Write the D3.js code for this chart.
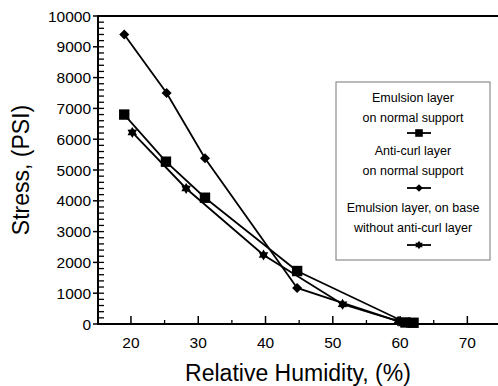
<!DOCTYPE html>
<html>
<head>
<meta charset="utf-8">
<script src="https://cdn.jsdelivr.net/npm/d3@7"></script>
<style>
  body { margin: 0; background: #fff; }
  svg { display: block; font-family: Arial, "Liberation Sans", sans-serif; }
</style>
</head>
<body>
<svg id="chart" width="498" height="386"></svg>
<script>
// data
var emulsionRH     = [19, 25.2, 31, 44.7, 60.8, 62];
var emulsionStress = [6800, 5270, 4100, 1720, 50, 40];
var anticurlRH     = [19, 25.3, 31, 44.7, 60, 61];
var anticurlStress = [9400, 7500, 5380, 1170, 70, 30];
var baseRH         = [20.2, 28.2, 39.7, 51.45, 59.7, 61.2];
var baseStress     = [6220, 4400, 2240, 640, 90, 40];

var xTicks = [20, 30, 40, 50, 60, 70];
var xMinor = [25, 35, 45, 55, 65];
var yTicks = [0, 1000, 2000, 3000, 4000, 5000, 6000, 7000, 8000, 9000, 10000];

var legendLines = [
	["Emulsion layer", "on normal support"],
	["Anti-curl layer", "on normal support"],
	["Emulsion layer, on base", "without anti-curl layer"]
];

// six pointed star like the original (size = outer radius)
var star6 = {
	draw: function (ctx, r) {
		var ri = r * 0.6;
		for (var i = 0; i < 12; i++) {
			var a = i * Math.PI / 6 - Math.PI / 2;
			var rr = (i % 2 == 0) ? r : ri;
			if (i == 0) ctx.moveTo(rr * Math.cos(a), rr * Math.sin(a));
			else ctx.lineTo(rr * Math.cos(a), rr * Math.sin(a));
		}
		ctx.closePath();
	}
};
// even diamond (size = half diagonal)
var diamond = {
	draw: function (ctx, r) {
		ctx.moveTo(0, -r);
		ctx.lineTo(r, 0);
		ctx.lineTo(0, r);
		ctx.lineTo(-r, 0);
		ctx.closePath();
	}
};
// square (size = half side)
var square = {
	draw: function (ctx, r) {
		ctx.rect(-r, -r, 2 * r, 2 * r);
	}
};

var series = [
	{ x: emulsionRH, y: emulsionStress, sym: square, size: 5.2, lsize: 3.8 },
	{ x: anticurlRH, y: anticurlStress, sym: diamond, size: 5, lsize: 3.8 },
	{ x: baseRH, y: baseStress, sym: star6, size: 5.5, lsize: 4.3 }
];

var svg = d3.select('#chart');

var x = d3.scaleLinear().domain([15.1, 75]).range([98, 501]);
var y = d3.scaleLinear().domain([0, 10000]).range([324, 16]);

// frame
svg.append('line').attr('x1', 98).attr('x2', 498).attr('y1', 16).attr('y2', 16)
	.attr('stroke', '#000').attr('stroke-width', 2);
svg.append('line').attr('x1', 98).attr('x2', 98).attr('y1', 15).attr('y2', 325)
	.attr('stroke', '#000').attr('stroke-width', 2);
svg.append('line').attr('x1', 97).attr('x2', 498).attr('y1', 324).attr('y2', 324)
	.attr('stroke', '#000').attr('stroke-width', 2);

// y ticks: inward minor every 200, outward at majors
var yMinor = d3.range(0, 10001, 200);
svg.selectAll('.yminor').data(yMinor).enter().append('line')
	.attr('x1', 98).attr('x2', 104)
	.attr('y1', function (d) { return y(d); }).attr('y2', function (d) { return y(d); })
	.attr('stroke', '#000').attr('stroke-width', 1.3);
svg.selectAll('.ymajor').data(yTicks).enter().append('line')
	.attr('x1', 93).attr('x2', 98)
	.attr('y1', function (d) { return y(d); }).attr('y2', function (d) { return y(d); })
	.attr('stroke', '#000').attr('stroke-width', 1.5);
svg.selectAll('.ylab').data(yTicks).enter().append('text')
	.attr('x', 91).attr('y', function (d) { return y(d) + 5.5; })
	.attr('text-anchor', 'end').style('font-size', '15.5px')
	.text(function (d) { return d; });

// x ticks point up into the plot
svg.selectAll('.xmajor').data(xTicks).enter().append('line')
	.attr('x1', function (d) { return x(d); }).attr('x2', function (d) { return x(d); })
	.attr('y1', 324).attr('y2', 316)
	.attr('stroke', '#000').attr('stroke-width', 1.5);
svg.selectAll('.xminor').data(xMinor).enter().append('line')
	.attr('x1', function (d) { return x(d); }).attr('x2', function (d) { return x(d); })
	.attr('y1', 324).attr('y2', 320)
	.attr('stroke', '#000').attr('stroke-width', 1.3);
svg.selectAll('.xlab').data(xTicks).enter().append('text')
	.attr('x', function (d) { return x(d); }).attr('y', 348)
	.attr('text-anchor', 'middle').style('font-size', '15.5px')
	.text(function (d) { return d; });

// axis titles
svg.append('text').attr('x', 298).attr('y', 381)
	.attr('text-anchor', 'middle').style('font-size', '23px')
	.text('Relative Humidity, (%)');
svg.append('text').attr('transform', 'translate(29,170) rotate(-90)')
	.attr('text-anchor', 'middle').style('font-size', '23px')
	.text('Stress, (PSI)');

// series
var line = d3.line()
	.x(function (d) { return x(d[0]); })
	.y(function (d) { return y(d[1]); });

series.forEach(function (s) {
	var pts = s.x.map(function (v, i) { return [v, s.y[i]]; });
	svg.append('path').datum(pts).attr('d', line)
		.attr('fill', 'none').attr('stroke', '#000').attr('stroke-width', 1.8);
	svg.selectAll(null).data(pts).enter().append('path')
		.attr('transform', function (d) { return 'translate(' + x(d[0]) + ',' + y(d[1]) + ')'; })
		.attr('d', d3.symbol().type(s.sym).size(s.size))
		.attr('fill', '#000');
});

// legend
var lg = svg.append('g');
lg.append('rect').attr('x', 336).attr('y', 82).attr('width', 154).attr('height', 178)
	.attr('fill', '#fff').attr('stroke', '#777').attr('stroke-width', 1);
var rowY = [97, 150, 207];
var symY = [133, 188, 245];
legendLines.forEach(function (l, i) {
	lg.append('text').attr('x', 413).attr('y', rowY[i] + 4.5)
		.attr('text-anchor', 'middle').style('font-size', '12.5px').text(l[0]);
	lg.append('text').attr('x', 413).attr('y', rowY[i] + 4.5 + 20.5)
		.attr('text-anchor', 'middle').style('font-size', '12.5px').text(l[1]);
	lg.append('line').attr('x1', 407).attr('x2', 431).attr('y1', symY[i]).attr('y2', symY[i])
		.attr('stroke', '#000').attr('stroke-width', 1.8);
	lg.append('path').attr('transform', 'translate(419,' + symY[i] + ')')
		.attr('d', d3.symbol().type(series[i].sym).size(series[i].lsize))
		.attr('fill', '#000');
});
</script>
</body>
</html>
